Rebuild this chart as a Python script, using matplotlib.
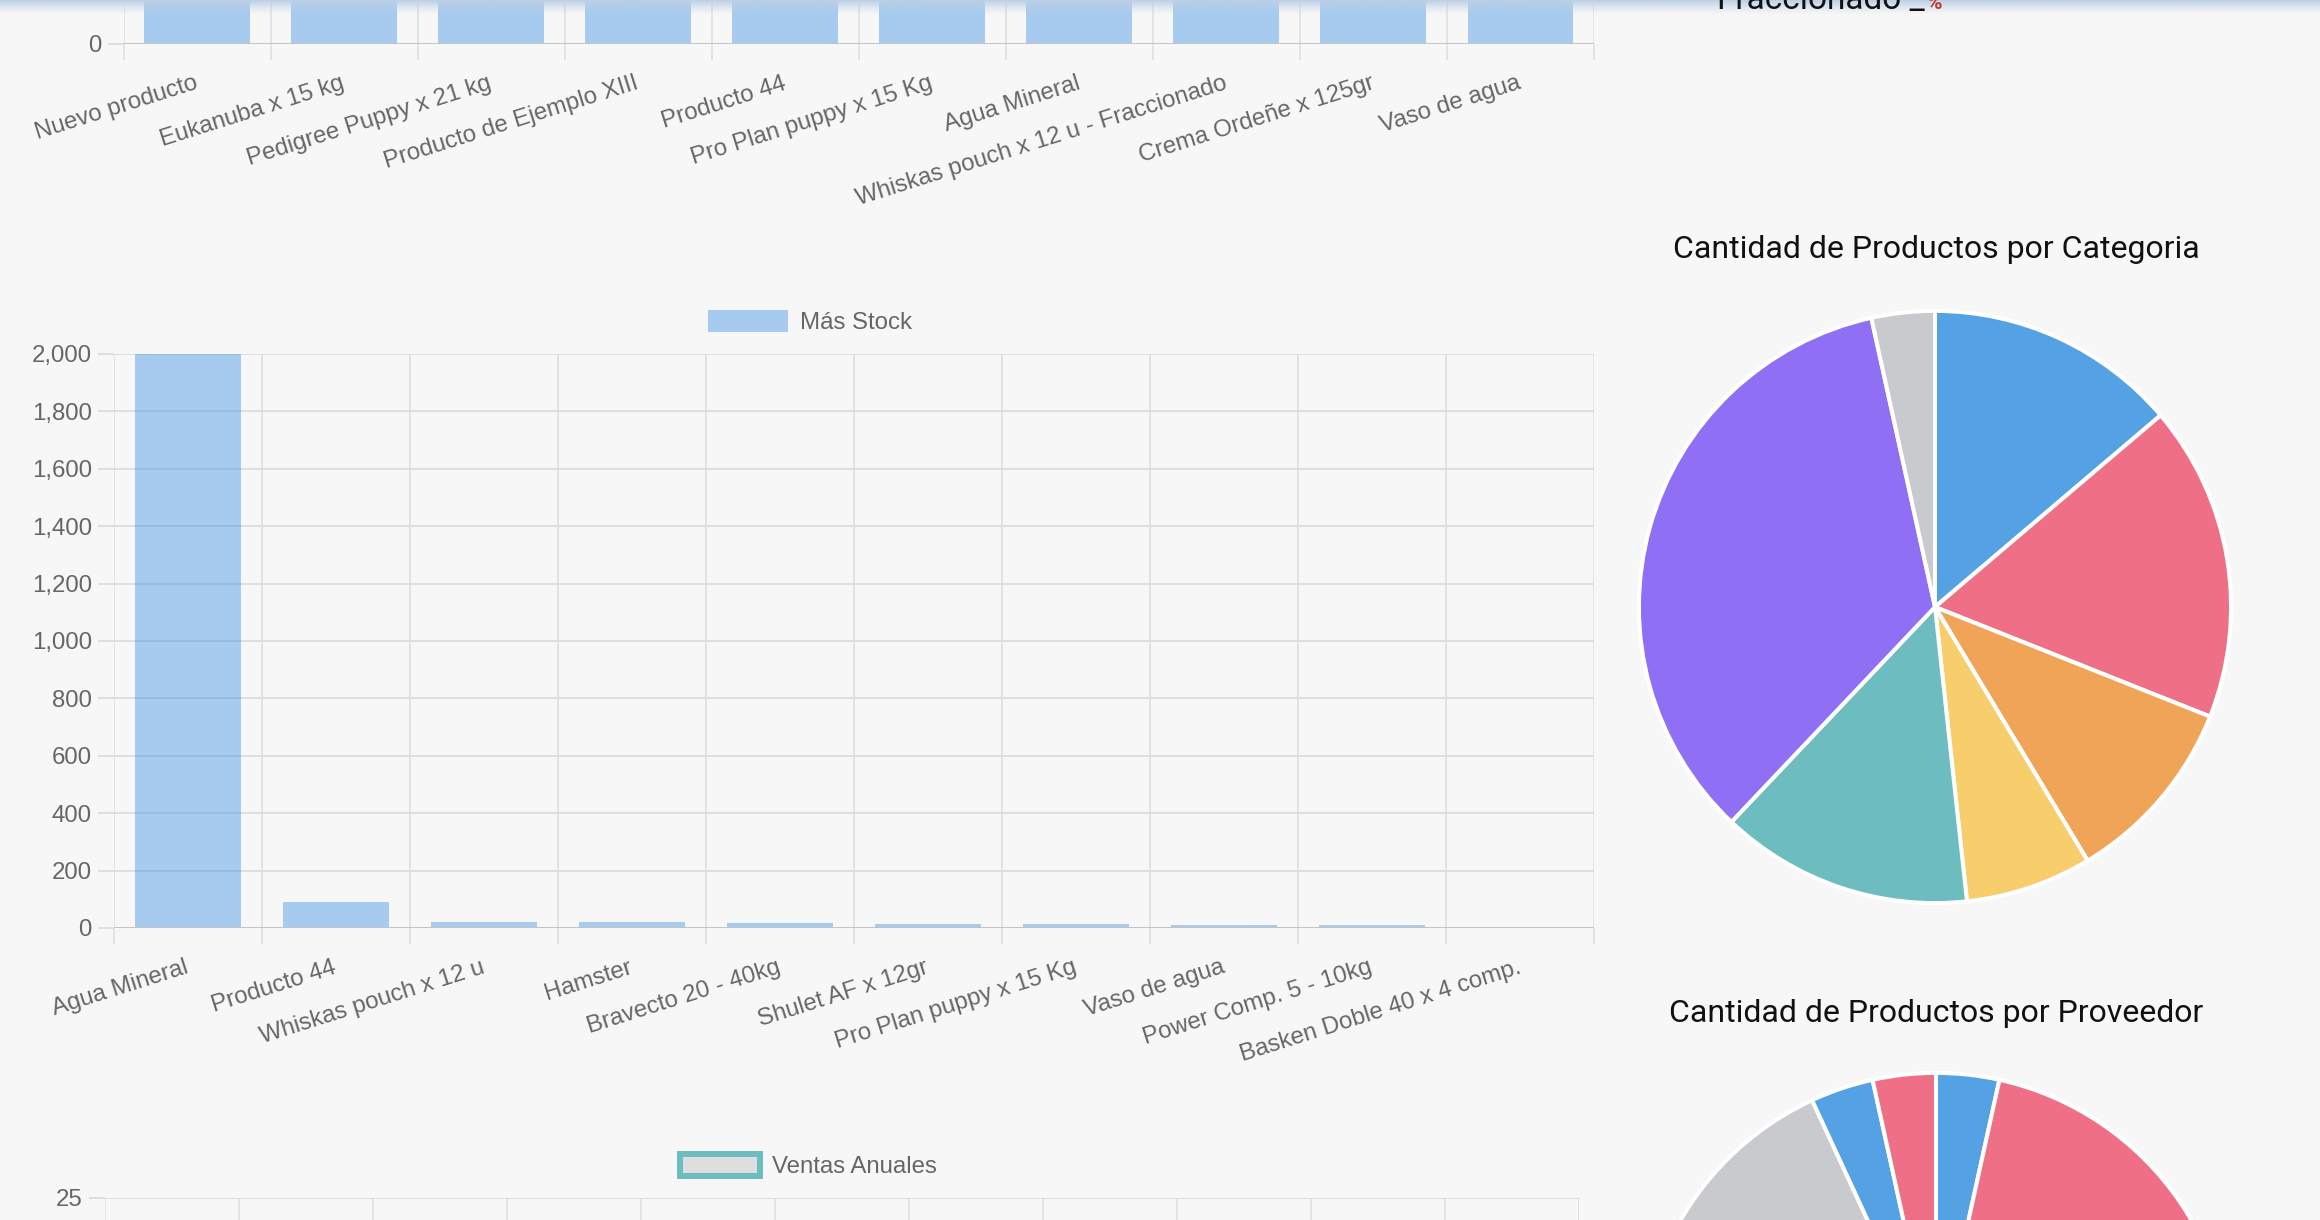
import numpy as np
import matplotlib
matplotlib.use("Agg")
import matplotlib.pyplot as plt
import matplotlib.patches as mpatches
from matplotlib.ticker import FuncFormatter

# --- data ---
vendidos_labels = ["Nuevo producto", "Eukanuba x 15 kg", "Pedigree Puppy x 21 kg",
                   "Producto de Ejemplo XIII", "Producto 44", "Pro Plan puppy x 15 Kg",
                   "Agua Mineral", "Whiskas pouch x 12 u - Fraccionado",
                   "Crema Ordeñe x 125gr", "Vaso de agua"]
vendidos_values = [10, 8, 7, 6, 5, 5, 4, 4, 3, 3]   # only the bottom of these bars is visible

stock_labels = ["Agua Mineral", "Producto 44", "Whiskas pouch x 12 u", "Hamster",
                "Bravecto 20 - 40kg", "Shulet AF x 12gr", "Pro Plan puppy x 15 Kg",
                "Vaso de agua", "Power Comp. 5 - 10kg", "Basken Doble 40 x 4 comp."]
stock_values = [2000, 90, 22, 20, 17, 15, 13, 11, 9, 1]

meses = ["Enero", "Febrero", "Marzo", "Abril", "Mayo", "Junio", "Julio",
         "Agosto", "Septiembre", "Octubre", "Noviembre", "Diciembre"]
ventas_anuales = [3, 5, 8, 12, 6, 9, 21, 14, 10, 7, 4, 2]

cat_counts = [4, 5, 3, 2, 4, 10, 1]
prov_counts = [1, 7, 3, 2, 4, 6, 4, 1, 1]

# --- style ---
W, H = 2320, 1220
BG = "#f7f7f7"
GRID = "#dedede"
ZERO = "#c4c4c4"
TXT = "#666666"
BAR = (47/255, 137/255, 227/255, 0.4)
TEAL = "#6dbcbf"
PALETTE = ["#54a2e3", "#ee6f86", "#f0a457", "#f7ce6b", "#6dbcbf", "#8f6ff3", "#c9cace"]
SANS = "Liberation Sans"
FS = 17.3
TL = 11.5  # tick length in pt (16 px)
ROT = 17.5

plt.rcParams["font.family"] = [SANS, "DejaVu Sans"]

fig = plt.figure(figsize=(W / 100, H / 100), dpi=100, facecolor=BG)


def rect(x0, y0, x1, y1):
    return [x0 / W, 1 - y1 / H, (x1 - x0) / W, (y1 - y0) / H]


def style_axes(ax):
    ax.set_facecolor("none")
    for s in ax.spines.values():
        s.set_visible(False)
    ax.set_axisbelow(True)
    ax.tick_params(axis="y", length=TL, width=1.44, color=GRID, pad=4.5,
                   labelsize=FS, labelcolor=TXT)
    ax.grid(axis="y", which="major", color=GRID, lw=1.44)
    ax.yaxis.set_major_formatter(FuncFormatter(lambda v, _: f"{v:,.0f}"))


def only_ylabels(ax, keep):
    # y labels that fall off the page are hidden
    for t, v in zip(ax.yaxis.get_major_ticks(), ax.get_yticks()):
        if v not in keep:
            t.label1.set_visible(False)


def bar_chart(ax, labels, values, ymax, step, name):
    x = np.arange(len(labels))
    bars = ax.bar(x, values, width=0.72, color=BAR, label=name)
    ax.set_xlim(-0.5, len(labels) - 0.5)
    ax.set_ylim(0, ymax)
    ax.set_yticks(np.arange(0, ymax + 1, step))
    ax.set_xticks(x)
    ax.set_xticklabels(labels, rotation=ROT, ha="right", va="center",
                       rotation_mode="anchor", fontsize=FS, color=TXT)
    ax.set_xticks(np.arange(-0.5, len(labels)), minor=True)
    style_axes(ax)
    ax.tick_params(axis="x", which="major", length=0, pad=28)
    ax.tick_params(axis="x", which="minor", length=TL, width=1.1, color=GRID)
    ax.grid(axis="x", which="minor", color=GRID, lw=1.1)
    ax.axhline(0, color=ZERO, lw=1.44, zorder=2.5)
    ax.yaxis.get_major_ticks()[0].tick1line.set_color(ZERO)
    return bars


# top chart (Más Vendidos), only its bottom is on screen
ax_top = fig.add_axes(rect(123.5, 44 - 574, 1594, 44))
bar_chart(ax_top, vendidos_labels, vendidos_values, 10, 2, "Más Vendidos")
only_ylabels(ax_top, [0])

# middle chart (Más Stock)
ax_mid = fig.add_axes(rect(114, 354, 1594, 928))
bars = bar_chart(ax_mid, stock_labels, stock_values, 2000, 200, "Más Stock")
ax_mid.legend(handles=[bars], loc="center", bbox_to_anchor=(810 / W, 1 - 322 / H),
              bbox_transform=fig.transFigure, frameon=False, fontsize=FS,
              labelcolor=TXT, handlelength=80 / 24, handleheight=1.0,
              handletextpad=0.5, borderpad=0, borderaxespad=0)

# bottom chart (Ventas Anuales), only its top is on screen
ax_bot = fig.add_axes(rect(105, 1198, 1579, 1198 + 574))
xm = np.arange(len(meses))
ax_bot.fill_between(xm, ventas_anuales, color=(0, 0, 0, 0.1), lw=0)
ax_bot.plot(xm, ventas_anuales, color=TEAL, lw=4.3)
ax_bot.set_xlim(0, len(meses) - 1)
ax_bot.set_ylim(0, 25)
ax_bot.set_yticks(np.arange(0, 26, 5))
ax_bot.set_xticks(xm)
ax_bot.set_xticklabels(meses)
style_axes(ax_bot)
ax_bot.tick_params(axis="x", length=TL, width=1.1, color=GRID, labelbottom=False)
ax_bot.grid(axis="x", color=GRID, lw=1.1)
only_ylabels(ax_bot, [25])
venta_handle = mpatches.Patch(facecolor="#dedede", edgecolor=TEAL, lw=4.3, label="Ventas Anuales")
ax_bot.legend(handles=[venta_handle], loc="center", bbox_to_anchor=(808 / W, 1 - 1166 / H),
              bbox_transform=fig.transFigure, frameon=False, fontsize=FS,
              labelcolor=TXT, handlelength=80 / 24, handleheight=1.0,
              handletextpad=0.5, borderpad=0, borderaxespad=0)


def pie_chart(cx, cy, r, counts):
    ax = fig.add_axes(rect(cx - r, cy - r, cx + r, cy + r))
    colors = [PALETTE[i % len(PALETTE)] for i in range(len(counts))]
    ax.pie(counts, colors=colors, startangle=90, counterclock=False, radius=1,
           wedgeprops=dict(edgecolor="white", linewidth=2.9))
    ax.set_xlim(-1.02, 1.02)
    ax.set_ylim(-1.02, 1.02)
    ax.axis("off")


fig.text(1936 / W, 1 - 250 / H, "Cantidad de Productos por Categoria",
         family=["Roboto", "DejaVu Sans"], fontsize=23, color="#111111",
         ha="center", va="center")
pie_chart(1935, 607, 302, cat_counts)

fig.text(1936 / W, 1 - 1013 / H, "Cantidad de Productos por Proveedor",
         family=["Roboto", "DejaVu Sans"], fontsize=23, color="#111111",
         ha="center", va="center")
pie_chart(1936, 1368, 301, prov_counts)

# navbar shadow at the very top
ax_sh = fig.add_axes(rect(0, 0, W, 15), zorder=10)
grad = np.zeros((30, 1, 4))
grad[..., 0] = 188 / 255
grad[..., 1] = 208 / 255
grad[..., 2] = 230 / 255
grad[:, 0, 3] = np.linspace(1, 0, 30) ** 1.3
ax_sh.imshow(grad, aspect="auto", extent=(0, 1, 0, 1))
ax_sh.axis("off")

# header text cut by the top of the page
fig.text(1717 / W, 1 - 9 / H, "Fraccionado _", family=["Roboto", "DejaVu Sans"],
         fontsize=24, color="#111111", ha="left", va="baseline", zorder=20)
fig.text(1927 / W, 1 - 9 / H, "%", family=["Roboto", "DejaVu Sans"],
         fontsize=15, color="#c0392b", weight="bold", ha="left", va="baseline", zorder=20)

fig.savefig("out.png", dpi=100, facecolor=BG)
